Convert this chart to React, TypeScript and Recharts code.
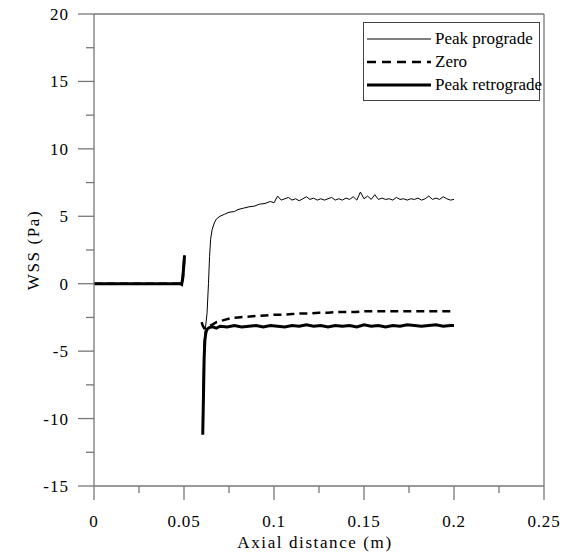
import React from 'react';
import { LineChart, Line, XAxis, YAxis, ReferenceLine, Legend } from 'recharts';

// ---- data ----
const X_TICKS = [0, 0.025, 0.05, 0.075, 0.1, 0.125, 0.15, 0.175, 0.2, 0.225, 0.25];
const X_LABELS: Record<string, string> = { '0': '0', '0.05': '0.05', '0.1': '0.1', '0.15': '0.15', '0.2': '0.2', '0.25': '0.25' };
const Y_TICKS = [-15, -12.5, -10, -7.5, -5, -2.5, 0, 2.5, 5, 7.5, 10, 12.5, 15, 17.5, 20];
const SERIES_NAMES = ['Peak prograde', 'Zero', 'Peak retrograde'];

// inlet segment shared by all three cases (x, WSS)
const inletX = [0, 0.01, 0.02, 0.03, 0.04, 0.048, 0.0487, 0.0493, 0.0498, 0.0503];
const inletY = [0, 0, 0, 0, 0, 0, -0.05, 0.4, 1.2, 2.1];
const gapX = 0.055;

const progradeX = [0.0603, 0.061, 0.0618, 0.0628, 0.0636, 0.0642, 0.0648, 0.0656, 0.0668, 0.068, 0.07, 0.0725, 0.075, 0.078, 0.08, 0.083, 0.086, 0.089, 0.092, 0.095, 0.098, 0.1, 0.102, 0.104, 0.106, 0.108, 0.11, 0.112, 0.114, 0.116, 0.118, 0.12, 0.122, 0.124, 0.126, 0.128, 0.13, 0.132, 0.134, 0.136, 0.138, 0.14, 0.142, 0.144, 0.146, 0.148, 0.15, 0.152, 0.154, 0.156, 0.158, 0.16, 0.162, 0.164, 0.166, 0.168, 0.17, 0.172, 0.174, 0.176, 0.178, 0.18, 0.182, 0.184, 0.186, 0.188, 0.19, 0.192, 0.194, 0.196, 0.198, 0.2];
const progradeY = [-9.0, -4.5, -3.4, -2.2, 0, 2.0, 3.3, 4.0, 4.5, 4.8, 5.0, 5.15, 5.3, 5.35, 5.5, 5.6, 5.7, 5.75, 5.9, 5.95, 6.1, 6.0, 6.5, 6.2, 6.3, 6.4, 6.2, 6.3, 6.15, 6.3, 6.45, 6.25, 6.35, 6.2, 6.3, 6.2, 6.3, 6.4, 6.2, 6.3, 6.2, 6.35, 6.25, 6.45, 6.2, 6.8, 6.3, 6.5, 6.25, 6.6, 6.25, 6.35, 6.25, 6.3, 6.2, 6.4, 6.25, 6.3, 6.2, 6.3, 6.25, 6.35, 6.2, 6.3, 6.5, 6.25, 6.35, 6.25, 6.45, 6.3, 6.2, 6.25];

const zeroX = [0.0598, 0.0604, 0.0612, 0.063, 0.0655, 0.068, 0.072, 0.076, 0.08, 0.085, 0.09, 0.095, 0.1, 0.105, 0.11, 0.115, 0.12, 0.125, 0.13, 0.135, 0.14, 0.145, 0.15, 0.16, 0.17, 0.18, 0.19, 0.2];
const zeroY = [-2.85, -3.1, -3.3, -3.2, -3.05, -2.85, -2.7, -2.55, -2.5, -2.45, -2.4, -2.35, -2.3, -2.3, -2.25, -2.2, -2.2, -2.15, -2.15, -2.1, -2.1, -2.1, -2.05, -2.05, -2.05, -2.05, -2.05, -2.05];

const retroX = [0.0604, 0.0608, 0.0612, 0.0616, 0.0622, 0.063, 0.064, 0.066, 0.068, 0.07, 0.074, 0.078, 0.082, 0.086, 0.09, 0.094, 0.098, 0.102, 0.106, 0.11, 0.114, 0.118, 0.122, 0.126, 0.13, 0.134, 0.138, 0.142, 0.146, 0.15, 0.154, 0.158, 0.162, 0.166, 0.17, 0.174, 0.178, 0.182, 0.186, 0.19, 0.194, 0.198, 0.2];
const retroY = [-11.2, -8.5, -5.5, -4.2, -3.6, -3.35, -3.25, -3.2, -3.3, -3.15, -3.2, -3.1, -3.2, -3.15, -3.1, -3.2, -3.1, -3.15, -3.2, -3.1, -3.15, -3.05, -3.15, -3.1, -3.2, -3.1, -3.15, -3.1, -3.2, -3.05, -3.15, -3.1, -3.2, -3.1, -3.15, -3.05, -3.1, -3.15, -3.1, -3.05, -3.15, -3.1, -3.1];

function build(xs: number[], ys: number[]) {
  const pts: { x: number; y: number | null }[] = inletX.map((x, i) => ({ x, y: inletY[i] }));
  pts.push({ x: gapX, y: null });
  xs.forEach((x, i) => pts.push({ x, y: ys[i] }));
  return pts;
}
const progradeData = build(progradeX, progradeY);
const zeroData = build(zeroX, zeroY);
const retroData = build(retroX, retroY);

// ---- style ----
const FONT = "'Liberation Serif', 'Times New Roman', serif";
const AXIS = '#777';
const TXT = { fontFamily: FONT, fontSize: 17 } as React.CSSProperties;

function isMultiple(v: number, step: number) {
  return Math.abs(v / step - Math.round(v / step)) < 1e-6;
}

function XTick(props: any) {
  const { x, y, payload } = props;
  const v = payload.value;
  const major = isMultiple(v, 0.05);
  return (
    <g>
      <line x1={x} x2={x} y1={y} y2={y + (major ? 14 : 7)} stroke={AXIS} strokeWidth={1.3} />
      {major && (
        <text x={x} y={y + 41} textAnchor="middle" style={{ ...TXT, letterSpacing: 0.8 }} fill="#000">
          {X_LABELS[String(v)]}
        </text>
      )}
    </g>
  );
}

function YTick(props: any) {
  const { x, y, payload } = props;
  const v = payload.value;
  const major = isMultiple(v, 5);
  return (
    <g>
      <line x1={x - (major ? 16 : 8)} x2={x} y1={y} y2={y} stroke={AXIS} strokeWidth={1.3} />
      {major && (
        <text x={x - 25} y={y} dy="0.35em" textAnchor="end" style={{ ...TXT, letterSpacing: 1 }} fill="#000">
          {String(v)}
        </text>
      )}
    </g>
  );
}

function LegendBox() {
  const styles = [
    { w: 1, dash: undefined },
    { w: 2.5, dash: '9 6' },
    { w: 3, dash: undefined },
  ];
  return (
    <div style={{ border: '1px solid #444', background: '#fff', padding: '4px 3px', fontFamily: FONT, fontSize: 17, lineHeight: '23px', boxSizing: 'border-box', width: 177 }}>
      {SERIES_NAMES.map((n, i) => (
        <div key={n} style={{ display: 'flex', alignItems: 'center', height: 23, whiteSpace: 'nowrap' }}>
          <svg width={64} height={10} style={{ flex: 'none' }}>
            <line x1={0} x2={64} y1={5} y2={5} stroke="#000" strokeWidth={styles[i].w} strokeDasharray={styles[i].dash} />
          </svg>
          <span style={{ marginLeft: 4 }}>{n}</span>
        </div>
      ))}
    </div>
  );
}

export default function App() {
  return (
    <div style={{ margin: '-8px 0 0 -8px', width: 586, height: 556 }}>
      <LineChart width={586} height={556} margin={{ top: 14, right: 42, left: 14, bottom: 10 }}>
        <XAxis
          dataKey="x"
          type="number"
          domain={[0, 0.25]}
          ticks={X_TICKS}
          interval={0}
          allowDataOverflow
          height={60}
          tickSize={0}
          tickMargin={0}
          tick={<XTick />}
          tickLine={false}
          axisLine={{ stroke: AXIS, strokeWidth: 1.3 }}
          label={{
            content: (p: any) => {
              const vb = p.viewBox;
              return (
                <text x={vb.x + vb.width / 2 - 4} y={vb.y + 62} textAnchor="middle" style={{ ...TXT, letterSpacing: 1.6 }} fill="#000">
                  Axial distance (m)
                </text>
              );
            },
          }}
        />
        <YAxis
          type="number"
          domain={[-15, 20]}
          ticks={Y_TICKS}
          interval={0}
          allowDataOverflow
          width={80}
          tickSize={0}
          tickMargin={0}
          tick={<YTick />}
          tickLine={false}
          axisLine={{ stroke: AXIS, strokeWidth: 1.3 }}
          label={{
            content: () => (
              <text x={33} y={250} transform="rotate(-90 33 250)" textAnchor="middle" dominantBaseline="central" style={{ ...TXT, letterSpacing: 1.6 }} fill="#000">
                WSS (Pa)
              </text>
            ),
          }}
        />
        <ReferenceLine y={20} stroke={AXIS} strokeWidth={1.3} />
        <ReferenceLine x={0.25} stroke={AXIS} strokeWidth={1.3} />
        <Line data={progradeData} dataKey="y" name={SERIES_NAMES[0]} stroke="#000" strokeWidth={1} dot={false} isAnimationActive={false} connectNulls={false} />
        <Line data={zeroData} dataKey="y" name={SERIES_NAMES[1]} stroke="#000" strokeWidth={2.5} strokeDasharray="8 5" dot={false} isAnimationActive={false} connectNulls={false} />
        <Line data={retroData} dataKey="y" name={SERIES_NAMES[2]} stroke="#000" strokeWidth={3} dot={false} isAnimationActive={false} connectNulls={false} />
        <Legend
          layout="horizontal"
          verticalAlign="middle"
          align="center"
          content={() => <LegendBox />}
          wrapperStyle={{ left: 363, top: 22, width: 177 }}
        />
      </LineChart>
    </div>
  );
}
